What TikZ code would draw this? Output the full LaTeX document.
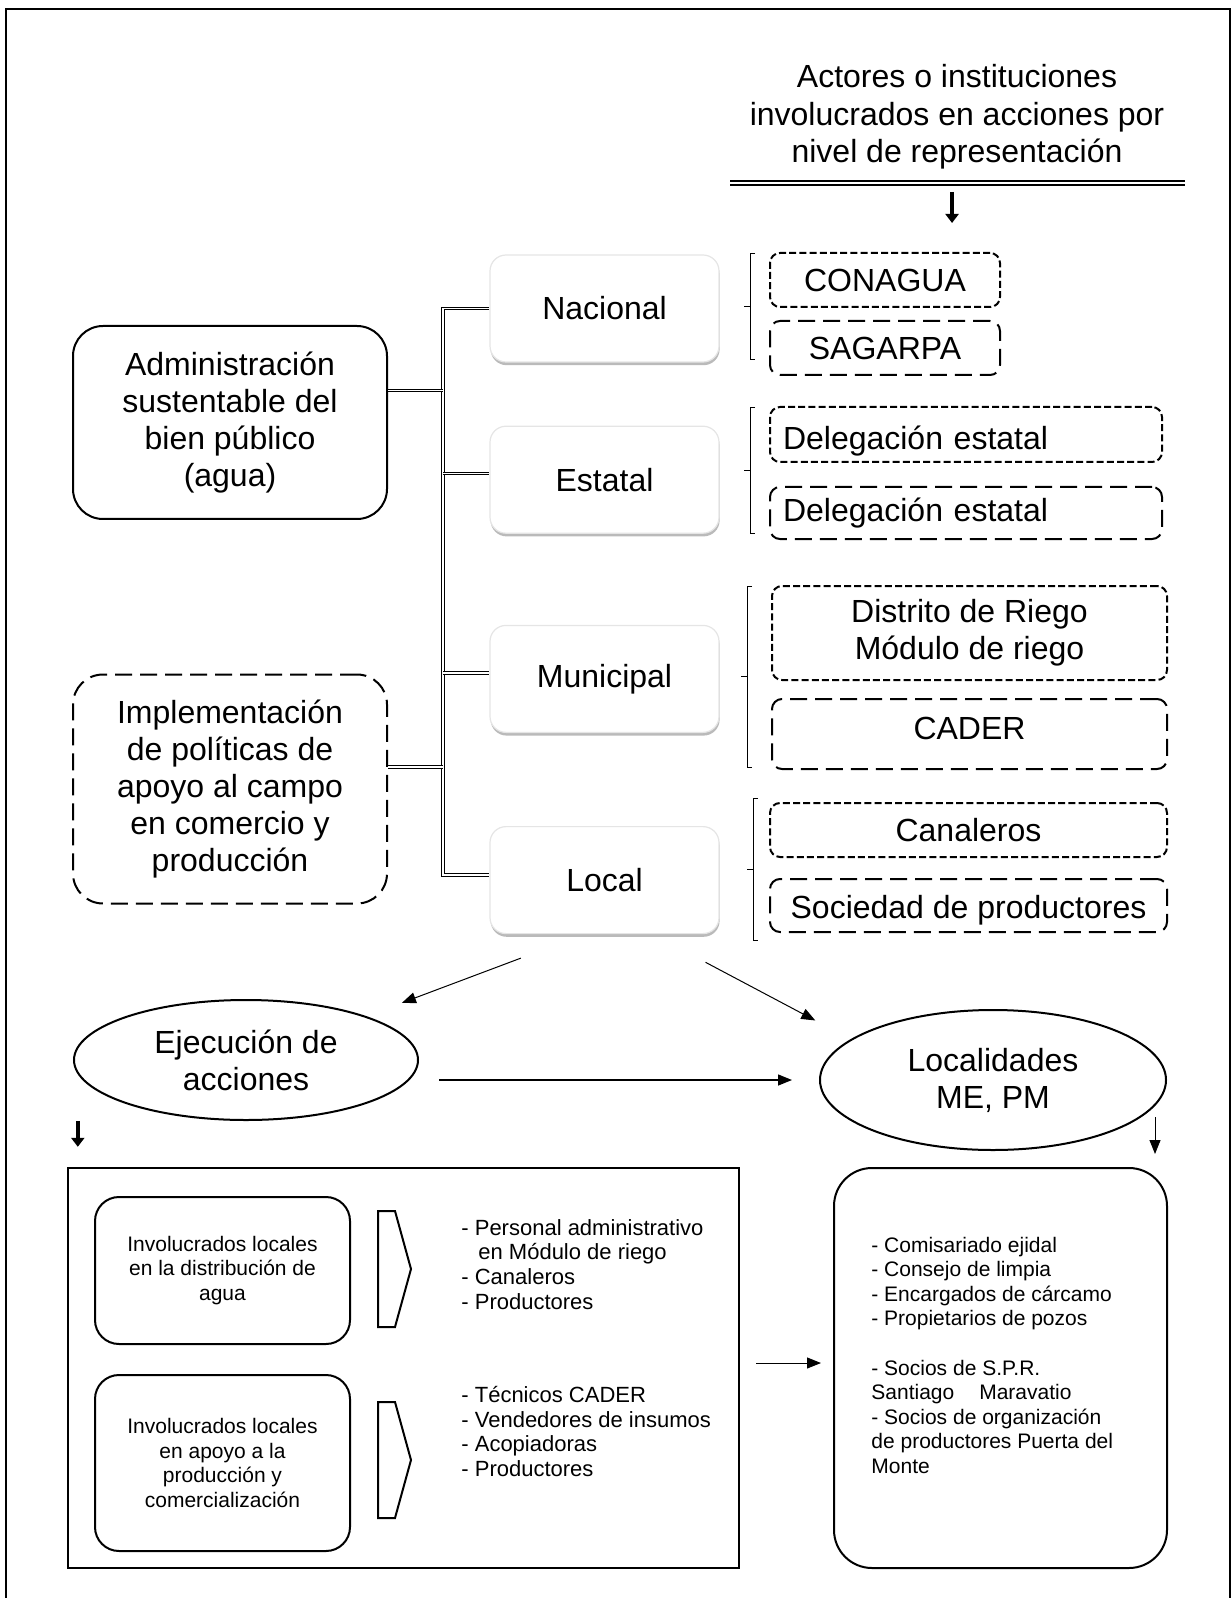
\documentclass[tikz,border=0pt]{standalone}
\usepackage{fontspec}
\setmainfont{Liberation Sans}
\usepackage{tikz}
\usetikzlibrary{shapes.geometric, positioning, calc, shadows, arrows.meta}
\newcommand{\lgtxt}{\fontsize{16}{18.5}\selectfont}
\newcommand{\hdtxt}{\fontsize{16}{18.7}\selectfont}
\newcommand{\smtxt}{\fontsize{10.5}{12.3}\selectfont}
\newcommand{\lsttxt}{\fontsize{11}{12.3}\selectfont}
\tikzset{
  lvl/.style={rounded corners=8pt, minimum width=114.5pt, minimum height=53.5pt, fill=white, draw=black!10, line width=0.6pt,
    drop shadow={shadow xshift=0.3pt, shadow yshift=-1.6pt, fill=black!45, opacity=0.6}, font=\lgtxt},
  solbox/.style={draw, line width=1pt, rounded corners=15pt, minimum width=157pt, minimum height=96.5pt, align=center, font=\lgtxt},
  act/.style={draw, line width=1pt, rounded corners=5pt, minimum height=27pt, align=center, font=\lgtxt},
  dshort/.style={dash pattern=on 3.5pt off 1.6pt},
  dlong/.style={dash pattern=on 8.5pt off 4pt},
  invbox/.style={draw, line width=1pt, rounded corners=12pt, minimum width=127.5pt, minimum height=73.5pt, align=center, font=\smtxt},
  lst/.style={anchor=north west, inner sep=0pt, align=left, font=\smtxt},
  dbl/.style={double, double distance=0.8pt, line width=0.5pt},
  hdbl/.style={double, double distance=0.6pt, line width=1pt},
  brk/.style={line width=0.4pt},
  arr/.style={-{Triangle[length=7pt,width=5.5pt]}, line width=0.5pt},
  thk/.style={-{Triangle[length=4.5pt,width=6.5pt]}, line width=1.8pt}
}

\begin{document}
\begin{tikzpicture}[x=0.5pt, y=-0.5pt, node distance=10pt]
  \useasboundingbox (0,0) rectangle (1231,1598);
  \draw[line width=1.2pt] (6,1620) -- (6,9) -- (1230,9) -- (1230,1620);

  % heading
  \node[font=\hdtxt, align=center, inner sep=0pt] (hdr) at (957,117) {
    Actores o instituciones\\
    involucrados en acciones por\\
    nivel de representación
  };
  \coordinate (hl) at (730,183);
  \coordinate (hr) at (1185,183);
  \draw[hdbl] (hl) -- (hr);
  \draw[thk] ($(hl)!0.488!(hr)+(0,9)$) -- ++(0,31);

  % left column
  \node[solbox] (adm) at (230,422.5) {
    Administración\\
    sustentable del\\
    bien público\\
    (agua)
  };
  \node[solbox, dlong, minimum height=114.5pt] (impl) at (230,789) {
    Implementación\\
    de políticas de\\
    apoyo al campo\\
    en comercio y\\
    producción
  };

  % levels
  \node[lvl] (nac) at (604.5,308.5) {Nacional};
  \node[lvl, below=31.5pt of nac] (est) {Estatal};
  \node[lvl, below=45.5pt of est] (mun) {Municipal};
  \node[lvl, below=46.5pt of mun] (loc) {Local};

  \coordinate (tr) at (443,0);
  \draw[dbl] (nac.west) -- (nac.west -| tr) |- ([yshift=2.5pt]loc.west);
  \foreach \n in {est, mun}
    \draw[dbl] ([yshift=3pt]\n.west -| tr) -- ([yshift=3pt]\n.west);
  \draw[dbl] ([yshift=16pt]adm.east) -- ([yshift=16pt]adm.east -| tr);
  \draw[dbl] ([yshift=11pt]impl.east) -- ([yshift=11pt]impl.east -| tr);

  % actors
  \node[act, dshort, minimum width=115pt] (cona) at (885,280) {CONAGUA};
  \node[act, dlong, minimum width=115pt, below=6pt of cona] (saga) {SAGARPA};
  \node[act, dshort, minimum width=196pt, minimum height=27.5pt, text width=183pt, align=left,
        inner ysep=0pt, text height=18pt, text depth=3.4pt] (dele1) at (966,434.5) {Delegación estatal};
  \node[act, dlong, minimum width=196pt, minimum height=26pt, text width=183pt, align=left, below=11.5pt of dele1] (dele2) {Delegación estatal};
  \node[act, dshort, minimum width=197.5pt, minimum height=47pt] (dist) at (969.5,633) {
    Distrito de Riego\\
    Módulo de riego
  };
  \node[act, dlong, minimum width=197.5pt, minimum height=35pt, text depth=6pt, below=8.5pt of dist] (cad) {CADER};
  \node[act, dshort, minimum width=198.5pt] (cana) at (968.5,830) {Canaleros};
  \node[act, dlong, minimum width=198.5pt, minimum height=26.5pt, inner ysep=2pt, text height=16.7pt, text depth=3.4pt,
        below=10pt of cana] (soc) {Sociedad de productores};

  \foreach \x/\t/\b in {750/253/359, 750/407/533, 747/586/767, 753/798/940}
    \draw[brk] ({\x+5},\t) -- (\x,\t) -- (\x,\b) -- ({\x+5},\b)
               (\x,{(\t+\b)/2}) -- ({\x-6},{(\t+\b)/2});

  % actions
  \node[ellipse, draw, line width=1pt, minimum width=172pt, minimum height=60pt, align=center, font=\lgtxt] (ejec) at (246,1060) {
    Ejecución de\\
    acciones
  };
  \node[ellipse, draw, line width=1pt, minimum width=173pt, minimum height=70pt, align=center, font=\lgtxt] (locs) at (993,1080) {
    Localidades\\
    ME, PM
  };
  \draw[arr, shorten <=34pt, shorten >=19pt] ([xshift=-10pt]loc.south) -- (ejec.20);
  \draw[arr, shorten <=30pt, shorten >=20pt] ([xshift=24pt]loc.south) -- (locs.164);
  \draw[arr, line width=0.7pt, shorten <=10pt, shorten >=13.5pt] (ejec.east |- locs.west) -- (locs.west);

  % bottom groups
  \node[draw, line width=1.2pt, minimum width=335.5pt, minimum height=200pt, inner sep=0pt] (grp) at (403.5,1368) {};
  \node[draw, line width=1pt, rounded corners=19pt, minimum width=166.5pt, minimum height=200pt] (com) at (1000.5,1368) {};
  \draw[thk] ([xshift=5.5pt,yshift=23pt]grp.north west) -- ++(0,26);
  \draw[arr] ([xshift=-6.5pt,yshift=25pt]com.north east) -- ++(0,37);
  \draw[arr, shorten <=8pt, shorten >=6pt] ([yshift=2.5pt]grp.east) -- ([yshift=2.5pt]com.west);

  \node[invbox] (inv1) at (222.5,1270.5) {
    Involucrados locales\\
    en la distribución de\\
    agua
  };
  \node[invbox, minimum height=88pt, below=14.5pt of inv1] (inv2) {
    Involucrados locales\\
    en apoyo a la\\
    producción y\\
    comercialización
  };
  \foreach \y in {1211,1402}
    \draw[line width=1pt] (378,\y) -- (395,\y) -- (411,{\y+58}) -- (395,{\y+116}) -- (378,{\y+116}) -- cycle;

  \node[lst, font=\lsttxt] (list1) at (461,1219) {
    - Personal administrativo\\
    \hspace*{8.5pt}en Módulo de riego\\
    - Canaleros\\
    - Productores
  };
  \node[lst, font=\lsttxt] (list2) at (461,1386) {
    - Técnicos CADER\\
    - Vendedores de insumos\\
    - Acopiadoras\\
    - Productores
  };
  \node[lst] (comtx) at ([xshift=19pt,yshift=-34.75pt]com.north west) {
    - Comisariado ejidal\\
    - Consejo de limpia\\
    - Encargados de cárcamo\\
    - Propietarios de pozos\\[12.3pt]
    - Socios de S.P.R.\\
    Santiago\hspace{12.5pt}Maravatio\\
    - Socios de organización\\
    de productores Puerta del\\
    Monte
  };
\end{tikzpicture}
\end{document}
